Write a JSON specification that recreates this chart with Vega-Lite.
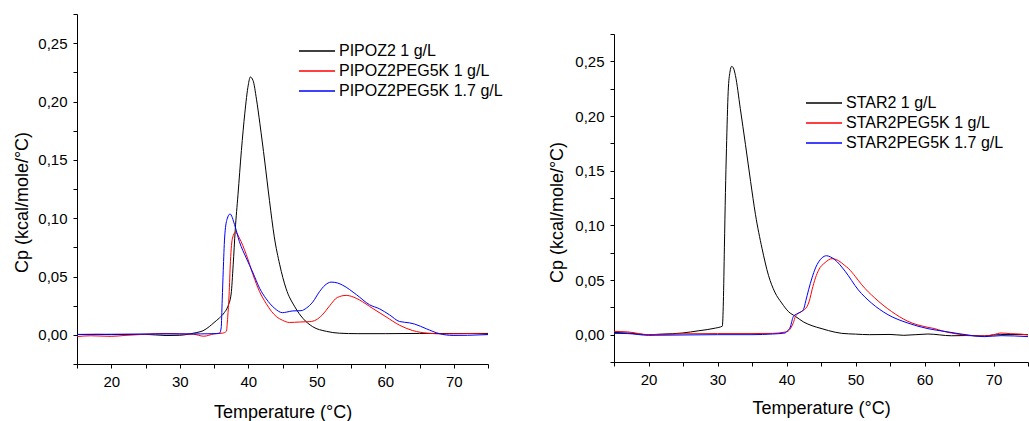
{
  "$schema": "https://vega.github.io/schema/vega-lite/v6.json",
  "padding": {"left": 13, "top": 13, "right": 0, "bottom": 0},
  "background": "white",
  "config": {
    "view": {"stroke": null},
    "font": "Liberation Sans",
    "axis": {"domainColor": "black", "tickColor": "black", "labelColor": "black", "titleColor": "black", "grid": false, "labelFont": "Liberation Sans", "titleFont": "Liberation Sans", "labelFontSize": 15, "titleFontSize": 18, "titleFontWeight": "normal", "tickSize": 4, "labelPadding": 6, "domainWidth": 1, "tickWidth": 1},
    "legend": {"orient": "none", "symbolType": "M-3,0H3", "symbolSize": 144, "symbolStrokeWidth": 1.3, "labelFontSize": 16, "labelFont": "Liberation Sans", "labelColor": "black", "labelOffset": 14, "labelLimit": 0, "rowPadding": 4, "title": null}
  },
  "datasets": {
    "left": [
      {"s": "PIPOZ2 1 g/L", "T": 15, "Cp": 0.0003}, {"s": "PIPOZ2 1 g/L", "T": 18, "Cp": 0.0004}, {"s": "PIPOZ2 1 g/L", "T": 20, "Cp": 0.0002}, {"s": "PIPOZ2 1 g/L", "T": 22, "Cp": 0.0003}, {"s": "PIPOZ2 1 g/L", "T": 25, "Cp": 0.0004}, {"s": "PIPOZ2 1 g/L", "T": 28, "Cp": -0.0006}, {"s": "PIPOZ2 1 g/L", "T": 30, "Cp": -0.0004}, {"s": "PIPOZ2 1 g/L", "T": 31.5, "Cp": 0.0008}, {"s": "PIPOZ2 1 g/L", "T": 32.5, "Cp": 0.002}, {"s": "PIPOZ2 1 g/L", "T": 33.4, "Cp": 0.0035}, {"s": "PIPOZ2 1 g/L", "T": 34.3, "Cp": 0.007}, {"s": "PIPOZ2 1 g/L", "T": 35, "Cp": 0.0105}, {"s": "PIPOZ2 1 g/L", "T": 35.8, "Cp": 0.0145}, {"s": "PIPOZ2 1 g/L", "T": 36.5, "Cp": 0.019}, {"s": "PIPOZ2 1 g/L", "T": 37.0, "Cp": 0.024}, {"s": "PIPOZ2 1 g/L", "T": 37.5, "Cp": 0.035}, {"s": "PIPOZ2 1 g/L", "T": 37.8, "Cp": 0.06}, {"s": "PIPOZ2 1 g/L", "T": 38.1, "Cp": 0.09}, {"s": "PIPOZ2 1 g/L", "T": 38.5, "Cp": 0.12}, {"s": "PIPOZ2 1 g/L", "T": 39.0, "Cp": 0.158}, {"s": "PIPOZ2 1 g/L", "T": 39.5, "Cp": 0.19}, {"s": "PIPOZ2 1 g/L", "T": 40.0, "Cp": 0.214}, {"s": "PIPOZ2 1 g/L", "T": 40.3, "Cp": 0.221}, {"s": "PIPOZ2 1 g/L", "T": 40.7, "Cp": 0.218}, {"s": "PIPOZ2 1 g/L", "T": 41.2, "Cp": 0.202}, {"s": "PIPOZ2 1 g/L", "T": 41.7, "Cp": 0.181}, {"s": "PIPOZ2 1 g/L", "T": 42.4, "Cp": 0.149}, {"s": "PIPOZ2 1 g/L", "T": 43.1, "Cp": 0.115}, {"s": "PIPOZ2 1 g/L", "T": 43.8, "Cp": 0.084}, {"s": "PIPOZ2 1 g/L", "T": 44.6, "Cp": 0.06}, {"s": "PIPOZ2 1 g/L", "T": 45.5, "Cp": 0.04}, {"s": "PIPOZ2 1 g/L", "T": 46.8, "Cp": 0.024}, {"s": "PIPOZ2 1 g/L", "T": 48.0, "Cp": 0.014}, {"s": "PIPOZ2 1 g/L", "T": 49.4, "Cp": 0.007}, {"s": "PIPOZ2 1 g/L", "T": 51.4, "Cp": 0.003}, {"s": "PIPOZ2 1 g/L", "T": 53.3, "Cp": 0.0014}, {"s": "PIPOZ2 1 g/L", "T": 56, "Cp": 0.001}, {"s": "PIPOZ2 1 g/L", "T": 60, "Cp": 0.001}, {"s": "PIPOZ2 1 g/L", "T": 65, "Cp": 0.0012}, {"s": "PIPOZ2 1 g/L", "T": 70, "Cp": 0.0011}, {"s": "PIPOZ2 1 g/L", "T": 75, "Cp": 0.0012},
      {"s": "PIPOZ2PEG5K 1 g/L", "T": 15, "Cp": -0.0015}, {"s": "PIPOZ2PEG5K 1 g/L", "T": 17, "Cp": -0.0008}, {"s": "PIPOZ2PEG5K 1 g/L", "T": 20, "Cp": -0.0013}, {"s": "PIPOZ2PEG5K 1 g/L", "T": 22, "Cp": -0.0005}, {"s": "PIPOZ2PEG5K 1 g/L", "T": 25, "Cp": 0.0005}, {"s": "PIPOZ2PEG5K 1 g/L", "T": 28, "Cp": 0.0012}, {"s": "PIPOZ2PEG5K 1 g/L", "T": 30, "Cp": 0.0008}, {"s": "PIPOZ2PEG5K 1 g/L", "T": 32, "Cp": 0.0005}, {"s": "PIPOZ2PEG5K 1 g/L", "T": 33.5, "Cp": -0.0012}, {"s": "PIPOZ2PEG5K 1 g/L", "T": 35, "Cp": 0.0008}, {"s": "PIPOZ2PEG5K 1 g/L", "T": 36.3, "Cp": 0.0015}, {"s": "PIPOZ2PEG5K 1 g/L", "T": 36.8, "Cp": 0.003}, {"s": "PIPOZ2PEG5K 1 g/L", "T": 37.0, "Cp": 0.015}, {"s": "PIPOZ2PEG5K 1 g/L", "T": 37.2, "Cp": 0.034}, {"s": "PIPOZ2PEG5K 1 g/L", "T": 37.4, "Cp": 0.063}, {"s": "PIPOZ2PEG5K 1 g/L", "T": 37.7, "Cp": 0.083}, {"s": "PIPOZ2PEG5K 1 g/L", "T": 38.15, "Cp": 0.088}, {"s": "PIPOZ2PEG5K 1 g/L", "T": 38.7, "Cp": 0.083}, {"s": "PIPOZ2PEG5K 1 g/L", "T": 39.7, "Cp": 0.069}, {"s": "PIPOZ2PEG5K 1 g/L", "T": 40.7, "Cp": 0.0515}, {"s": "PIPOZ2PEG5K 1 g/L", "T": 41.65, "Cp": 0.037}, {"s": "PIPOZ2PEG5K 1 g/L", "T": 42.6, "Cp": 0.027}, {"s": "PIPOZ2PEG5K 1 g/L", "T": 43.4, "Cp": 0.02}, {"s": "PIPOZ2PEG5K 1 g/L", "T": 44.1, "Cp": 0.0157}, {"s": "PIPOZ2PEG5K 1 g/L", "T": 45.0, "Cp": 0.0125}, {"s": "PIPOZ2PEG5K 1 g/L", "T": 46.0, "Cp": 0.0106}, {"s": "PIPOZ2PEG5K 1 g/L", "T": 47.5, "Cp": 0.011}, {"s": "PIPOZ2PEG5K 1 g/L", "T": 49.0, "Cp": 0.0113}, {"s": "PIPOZ2PEG5K 1 g/L", "T": 49.9, "Cp": 0.0128}, {"s": "PIPOZ2PEG5K 1 g/L", "T": 50.8, "Cp": 0.017}, {"s": "PIPOZ2PEG5K 1 g/L", "T": 51.9, "Cp": 0.025}, {"s": "PIPOZ2PEG5K 1 g/L", "T": 53.0, "Cp": 0.032}, {"s": "PIPOZ2PEG5K 1 g/L", "T": 54.3, "Cp": 0.0338}, {"s": "PIPOZ2PEG5K 1 g/L", "T": 55.3, "Cp": 0.0325}, {"s": "PIPOZ2PEG5K 1 g/L", "T": 56.2, "Cp": 0.03}, {"s": "PIPOZ2PEG5K 1 g/L", "T": 58.2, "Cp": 0.0225}, {"s": "PIPOZ2PEG5K 1 g/L", "T": 60.1, "Cp": 0.0155}, {"s": "PIPOZ2PEG5K 1 g/L", "T": 62.1, "Cp": 0.0082}, {"s": "PIPOZ2PEG5K 1 g/L", "T": 64.0, "Cp": 0.0037}, {"s": "PIPOZ2PEG5K 1 g/L", "T": 66.2, "Cp": 0.0014}, {"s": "PIPOZ2PEG5K 1 g/L", "T": 68.5, "Cp": 0.0008}, {"s": "PIPOZ2PEG5K 1 g/L", "T": 71, "Cp": 0.001}, {"s": "PIPOZ2PEG5K 1 g/L", "T": 73, "Cp": 0.0011}, {"s": "PIPOZ2PEG5K 1 g/L", "T": 75, "Cp": 0.0004},
      {"s": "PIPOZ2PEG5K 1.7 g/L", "T": 15, "Cp": 0.0003}, {"s": "PIPOZ2PEG5K 1.7 g/L", "T": 20, "Cp": 0.0005}, {"s": "PIPOZ2PEG5K 1.7 g/L", "T": 25, "Cp": 0.0007}, {"s": "PIPOZ2PEG5K 1.7 g/L", "T": 30, "Cp": 0.0008}, {"s": "PIPOZ2PEG5K 1.7 g/L", "T": 33, "Cp": 0.0008}, {"s": "PIPOZ2PEG5K 1.7 g/L", "T": 35, "Cp": 0.001}, {"s": "PIPOZ2PEG5K 1.7 g/L", "T": 35.8, "Cp": 0.0014}, {"s": "PIPOZ2PEG5K 1.7 g/L", "T": 36.05, "Cp": 0.006}, {"s": "PIPOZ2PEG5K 1.7 g/L", "T": 36.2, "Cp": 0.03}, {"s": "PIPOZ2PEG5K 1.7 g/L", "T": 36.35, "Cp": 0.055}, {"s": "PIPOZ2PEG5K 1.7 g/L", "T": 36.55, "Cp": 0.083}, {"s": "PIPOZ2PEG5K 1.7 g/L", "T": 36.9, "Cp": 0.099}, {"s": "PIPOZ2PEG5K 1.7 g/L", "T": 37.35, "Cp": 0.1036}, {"s": "PIPOZ2PEG5K 1.7 g/L", "T": 38.0, "Cp": 0.0945}, {"s": "PIPOZ2PEG5K 1.7 g/L", "T": 38.7, "Cp": 0.08}, {"s": "PIPOZ2PEG5K 1.7 g/L", "T": 39.7, "Cp": 0.066}, {"s": "PIPOZ2PEG5K 1.7 g/L", "T": 40.7, "Cp": 0.053}, {"s": "PIPOZ2PEG5K 1.7 g/L", "T": 41.65, "Cp": 0.04}, {"s": "PIPOZ2PEG5K 1.7 g/L", "T": 42.6, "Cp": 0.031}, {"s": "PIPOZ2PEG5K 1.7 g/L", "T": 43.8, "Cp": 0.023}, {"s": "PIPOZ2PEG5K 1.7 g/L", "T": 45.0, "Cp": 0.019}, {"s": "PIPOZ2PEG5K 1.7 g/L", "T": 45.6, "Cp": 0.0195}, {"s": "PIPOZ2PEG5K 1.7 g/L", "T": 46.5, "Cp": 0.0205}, {"s": "PIPOZ2PEG5K 1.7 g/L", "T": 47.7, "Cp": 0.0207}, {"s": "PIPOZ2PEG5K 1.7 g/L", "T": 48.5, "Cp": 0.023}, {"s": "PIPOZ2PEG5K 1.7 g/L", "T": 49.4, "Cp": 0.028}, {"s": "PIPOZ2PEG5K 1.7 g/L", "T": 50.4, "Cp": 0.037}, {"s": "PIPOZ2PEG5K 1.7 g/L", "T": 51.2, "Cp": 0.0425}, {"s": "PIPOZ2PEG5K 1.7 g/L", "T": 52.1, "Cp": 0.0452}, {"s": "PIPOZ2PEG5K 1.7 g/L", "T": 53.0, "Cp": 0.0445}, {"s": "PIPOZ2PEG5K 1.7 g/L", "T": 53.8, "Cp": 0.0425}, {"s": "PIPOZ2PEG5K 1.7 g/L", "T": 55.8, "Cp": 0.0344}, {"s": "PIPOZ2PEG5K 1.7 g/L", "T": 57.7, "Cp": 0.0258}, {"s": "PIPOZ2PEG5K 1.7 g/L", "T": 59.2, "Cp": 0.0222}, {"s": "PIPOZ2PEG5K 1.7 g/L", "T": 60.6, "Cp": 0.0172}, {"s": "PIPOZ2PEG5K 1.7 g/L", "T": 62.1, "Cp": 0.0114}, {"s": "PIPOZ2PEG5K 1.7 g/L", "T": 63.5, "Cp": 0.0103}, {"s": "PIPOZ2PEG5K 1.7 g/L", "T": 64.3, "Cp": 0.0092}, {"s": "PIPOZ2PEG5K 1.7 g/L", "T": 66.0, "Cp": 0.0052}, {"s": "PIPOZ2PEG5K 1.7 g/L", "T": 67.9, "Cp": 0.001}, {"s": "PIPOZ2PEG5K 1.7 g/L", "T": 69.9, "Cp": -0.0005}, {"s": "PIPOZ2PEG5K 1.7 g/L", "T": 72, "Cp": -0.0004}, {"s": "PIPOZ2PEG5K 1.7 g/L", "T": 75, "Cp": 0.0002}
    ],
    "right": [
      {"s": "STAR2 1 g/L", "T": 15, "Cp": 0.002}, {"s": "STAR2 1 g/L", "T": 17, "Cp": 0.0015}, {"s": "STAR2 1 g/L", "T": 20, "Cp": 0.0}, {"s": "STAR2 1 g/L", "T": 22, "Cp": 0.0005}, {"s": "STAR2 1 g/L", "T": 24.9, "Cp": 0.0015}, {"s": "STAR2 1 g/L", "T": 27.3, "Cp": 0.0036}, {"s": "STAR2 1 g/L", "T": 29.7, "Cp": 0.006}, {"s": "STAR2 1 g/L", "T": 30.7, "Cp": 0.0078}, {"s": "STAR2 1 g/L", "T": 30.85, "Cp": 0.03}, {"s": "STAR2 1 g/L", "T": 31.0, "Cp": 0.08}, {"s": "STAR2 1 g/L", "T": 31.15, "Cp": 0.13}, {"s": "STAR2 1 g/L", "T": 31.3, "Cp": 0.17}, {"s": "STAR2 1 g/L", "T": 31.55, "Cp": 0.2225}, {"s": "STAR2 1 g/L", "T": 31.8, "Cp": 0.24}, {"s": "STAR2 1 g/L", "T": 32.05, "Cp": 0.2454}, {"s": "STAR2 1 g/L", "T": 32.3, "Cp": 0.244}, {"s": "STAR2 1 g/L", "T": 32.6, "Cp": 0.237}, {"s": "STAR2 1 g/L", "T": 33.3, "Cp": 0.207}, {"s": "STAR2 1 g/L", "T": 34.05, "Cp": 0.174}, {"s": "STAR2 1 g/L", "T": 34.8, "Cp": 0.14}, {"s": "STAR2 1 g/L", "T": 35.5, "Cp": 0.11}, {"s": "STAR2 1 g/L", "T": 36.45, "Cp": 0.079}, {"s": "STAR2 1 g/L", "T": 37.4, "Cp": 0.054}, {"s": "STAR2 1 g/L", "T": 38.3, "Cp": 0.039}, {"s": "STAR2 1 g/L", "T": 39.3, "Cp": 0.029}, {"s": "STAR2 1 g/L", "T": 40.3, "Cp": 0.021}, {"s": "STAR2 1 g/L", "T": 41.3, "Cp": 0.0167}, {"s": "STAR2 1 g/L", "T": 42.5, "Cp": 0.0115}, {"s": "STAR2 1 g/L", "T": 43.7, "Cp": 0.0082}, {"s": "STAR2 1 g/L", "T": 45.0, "Cp": 0.0057}, {"s": "STAR2 1 g/L", "T": 46.1, "Cp": 0.0037}, {"s": "STAR2 1 g/L", "T": 48.0, "Cp": 0.0012}, {"s": "STAR2 1 g/L", "T": 50, "Cp": 0.0005}, {"s": "STAR2 1 g/L", "T": 52, "Cp": 0.0}, {"s": "STAR2 1 g/L", "T": 55, "Cp": 0.0002}, {"s": "STAR2 1 g/L", "T": 57, "Cp": -0.0006}, {"s": "STAR2 1 g/L", "T": 60.5, "Cp": 0.0006}, {"s": "STAR2 1 g/L", "T": 63.9, "Cp": -0.001}, {"s": "STAR2 1 g/L", "T": 66, "Cp": -0.0008}, {"s": "STAR2 1 g/L", "T": 68.7, "Cp": -0.0012}, {"s": "STAR2 1 g/L", "T": 70, "Cp": -0.0003}, {"s": "STAR2 1 g/L", "T": 72.1, "Cp": 0.0002}, {"s": "STAR2 1 g/L", "T": 75, "Cp": 0.0},
      {"s": "STAR2PEG5K 1 g/L", "T": 15, "Cp": 0.003}, {"s": "STAR2PEG5K 1 g/L", "T": 17, "Cp": 0.0025}, {"s": "STAR2PEG5K 1 g/L", "T": 20, "Cp": 0.0}, {"s": "STAR2PEG5K 1 g/L", "T": 25, "Cp": 0.0008}, {"s": "STAR2PEG5K 1 g/L", "T": 30, "Cp": 0.001}, {"s": "STAR2PEG5K 1 g/L", "T": 35, "Cp": 0.001}, {"s": "STAR2PEG5K 1 g/L", "T": 38, "Cp": 0.0012}, {"s": "STAR2PEG5K 1 g/L", "T": 39.8, "Cp": 0.0024}, {"s": "STAR2PEG5K 1 g/L", "T": 40.3, "Cp": 0.0035}, {"s": "STAR2PEG5K 1 g/L", "T": 40.7, "Cp": 0.007}, {"s": "STAR2PEG5K 1 g/L", "T": 41.0, "Cp": 0.011}, {"s": "STAR2PEG5K 1 g/L", "T": 41.3, "Cp": 0.0167}, {"s": "STAR2PEG5K 1 g/L", "T": 41.6, "Cp": 0.019}, {"s": "STAR2PEG5K 1 g/L", "T": 42.2, "Cp": 0.0213}, {"s": "STAR2PEG5K 1 g/L", "T": 43.0, "Cp": 0.026}, {"s": "STAR2PEG5K 1 g/L", "T": 43.4, "Cp": 0.033}, {"s": "STAR2PEG5K 1 g/L", "T": 43.7, "Cp": 0.041}, {"s": "STAR2PEG5K 1 g/L", "T": 44.2, "Cp": 0.052}, {"s": "STAR2PEG5K 1 g/L", "T": 44.65, "Cp": 0.059}, {"s": "STAR2PEG5K 1 g/L", "T": 45.6, "Cp": 0.066}, {"s": "STAR2PEG5K 1 g/L", "T": 46.6, "Cp": 0.0695}, {"s": "STAR2PEG5K 1 g/L", "T": 47.5, "Cp": 0.0678}, {"s": "STAR2PEG5K 1 g/L", "T": 48.4, "Cp": 0.0635}, {"s": "STAR2PEG5K 1 g/L", "T": 49.0, "Cp": 0.0604}, {"s": "STAR2PEG5K 1 g/L", "T": 50.0, "Cp": 0.053}, {"s": "STAR2PEG5K 1 g/L", "T": 50.9, "Cp": 0.0457}, {"s": "STAR2PEG5K 1 g/L", "T": 52.8, "Cp": 0.0335}, {"s": "STAR2PEG5K 1 g/L", "T": 55.2, "Cp": 0.0213}, {"s": "STAR2PEG5K 1 g/L", "T": 57.6, "Cp": 0.0122}, {"s": "STAR2PEG5K 1 g/L", "T": 60.5, "Cp": 0.0067}, {"s": "STAR2PEG5K 1 g/L", "T": 61.5, "Cp": 0.0055}, {"s": "STAR2PEG5K 1 g/L", "T": 62.5, "Cp": 0.0035}, {"s": "STAR2PEG5K 1 g/L", "T": 63.9, "Cp": 0.0015}, {"s": "STAR2PEG5K 1 g/L", "T": 66.3, "Cp": -0.0006}, {"s": "STAR2PEG5K 1 g/L", "T": 68.7, "Cp": -0.0012}, {"s": "STAR2PEG5K 1 g/L", "T": 70.0, "Cp": 0.0}, {"s": "STAR2PEG5K 1 g/L", "T": 71.1, "Cp": 0.0015}, {"s": "STAR2PEG5K 1 g/L", "T": 72.5, "Cp": 0.0009}, {"s": "STAR2PEG5K 1 g/L", "T": 74, "Cp": 0.0005}, {"s": "STAR2PEG5K 1 g/L", "T": 75, "Cp": -0.0003},
      {"s": "STAR2PEG5K 1.7 g/L", "T": 15, "Cp": 0.0012}, {"s": "STAR2PEG5K 1.7 g/L", "T": 17, "Cp": 0.001}, {"s": "STAR2PEG5K 1.7 g/L", "T": 20, "Cp": -0.0006}, {"s": "STAR2PEG5K 1.7 g/L", "T": 25, "Cp": -0.0003}, {"s": "STAR2PEG5K 1.7 g/L", "T": 30, "Cp": 0.0}, {"s": "STAR2PEG5K 1.7 g/L", "T": 35, "Cp": 0.0}, {"s": "STAR2PEG5K 1.7 g/L", "T": 38, "Cp": 0.0006}, {"s": "STAR2PEG5K 1.7 g/L", "T": 39.8, "Cp": 0.0015}, {"s": "STAR2PEG5K 1.7 g/L", "T": 40.05, "Cp": 0.003}, {"s": "STAR2PEG5K 1.7 g/L", "T": 40.55, "Cp": 0.007}, {"s": "STAR2PEG5K 1.7 g/L", "T": 41.0, "Cp": 0.0167}, {"s": "STAR2PEG5K 1.7 g/L", "T": 41.5, "Cp": 0.019}, {"s": "STAR2PEG5K 1.7 g/L", "T": 42.0, "Cp": 0.0205}, {"s": "STAR2PEG5K 1.7 g/L", "T": 42.45, "Cp": 0.0229}, {"s": "STAR2PEG5K 1.7 g/L", "T": 42.8, "Cp": 0.031}, {"s": "STAR2PEG5K 1.7 g/L", "T": 43.2, "Cp": 0.041}, {"s": "STAR2PEG5K 1.7 g/L", "T": 43.7, "Cp": 0.052}, {"s": "STAR2PEG5K 1.7 g/L", "T": 44.2, "Cp": 0.061}, {"s": "STAR2PEG5K 1.7 g/L", "T": 45.1, "Cp": 0.07}, {"s": "STAR2PEG5K 1.7 g/L", "T": 45.8, "Cp": 0.0722}, {"s": "STAR2PEG5K 1.7 g/L", "T": 46.4, "Cp": 0.071}, {"s": "STAR2PEG5K 1.7 g/L", "T": 47.0, "Cp": 0.0686}, {"s": "STAR2PEG5K 1.7 g/L", "T": 48.5, "Cp": 0.058}, {"s": "STAR2PEG5K 1.7 g/L", "T": 50.4, "Cp": 0.041}, {"s": "STAR2PEG5K 1.7 g/L", "T": 52.3, "Cp": 0.029}, {"s": "STAR2PEG5K 1.7 g/L", "T": 54.7, "Cp": 0.0183}, {"s": "STAR2PEG5K 1.7 g/L", "T": 57.6, "Cp": 0.0106}, {"s": "STAR2PEG5K 1.7 g/L", "T": 60.5, "Cp": 0.0055}, {"s": "STAR2PEG5K 1.7 g/L", "T": 62.9, "Cp": 0.003}, {"s": "STAR2PEG5K 1.7 g/L", "T": 65.3, "Cp": 0.0006}, {"s": "STAR2PEG5K 1.7 g/L", "T": 68.7, "Cp": -0.0018}, {"s": "STAR2PEG5K 1.7 g/L", "T": 71.1, "Cp": -0.0009}, {"s": "STAR2PEG5K 1.7 g/L", "T": 75, "Cp": -0.0018}
    ]
  },
  "spacing": 45,
  "resolve": {"scale": {"color": "independent"}, "legend": {"color": "independent"}},
  "hconcat": [
    {
      "width": 411,
      "height": 350,
      "data": {"name": "left"},
      "mark": {"type": "line", "strokeWidth": 1, "interpolate": "monotone"},
      "encoding": {
        "x": {"field": "T", "type": "quantitative", "scale": {"domain": [15, 75], "nice": false, "zero": false},
          "axis": {"values": [15, 20, 25, 30, 35, 40, 45, 50, 55, 60, 65, 70, 75], "labelExpr": "datum.value % 10 == 0 ? datum.label : ''", "title": "Temperature (°C)", "titlePadding": 14}},
        "y": {"field": "Cp", "type": "quantitative", "scale": {"domain": [-0.025, 0.275], "nice": false, "zero": false},
          "axis": {"values": [-0.025, 0, 0.025, 0.05, 0.075, 0.1, 0.125, 0.15, 0.175, 0.2, 0.225, 0.25, 0.275], "labelExpr": "datum.value > -0.001 && datum.value < 0.26 && round(datum.value * 40) % 2 == 0 ? replace(format(datum.value, '.2f'), '.', ',') : ''", "title": "Cp (kcal/mole/°C)", "titlePadding": 6, "titleY": 188}},
        "color": {"field": "s", "type": "nominal",
          "scale": {"domain": ["PIPOZ2 1 g/L", "PIPOZ2PEG5K 1 g/L", "PIPOZ2PEG5K 1.7 g/L"], "range": ["black", "red", "blue"]},
          "legend": {"orient": "none", "legendX": 232, "legendY": 29}}
      }
    },
    {
      "spacing": 0,
      "vconcat": [
        {
          "width": 10,
          "height": 19,
          "data": {"values": []},
          "mark": {"type": "point", "opacity": 0}
        },
        {
          "width": 414,
          "height": 328,
          "data": {"name": "right"},
          "mark": {"type": "line", "strokeWidth": 1, "interpolate": "monotone"},
          "encoding": {
            "x": {"field": "T", "type": "quantitative", "scale": {"domain": [15, 75], "nice": false, "zero": false},
              "axis": {"values": [15, 20, 25, 30, 35, 40, 45, 50, 55, 60, 65, 70, 75], "labelExpr": "datum.value % 10 == 0 ? datum.label : ''", "title": "Temperature (°C)", "titlePadding": 12}},
            "y": {"field": "Cp", "type": "quantitative", "scale": {"domain": [-0.025, 0.275], "nice": false, "zero": false},
              "axis": {"values": [-0.025, 0, 0.025, 0.05, 0.075, 0.1, 0.125, 0.15, 0.175, 0.2, 0.225, 0.25, 0.275], "labelExpr": "datum.value > -0.001 && datum.value < 0.26 && round(datum.value * 40) % 2 == 0 ? replace(format(datum.value, '.2f'), '.', ',') : ''", "title": "Cp (kcal/mole/°C)", "titlePadding": 8, "titleY": 178}},
            "color": {"field": "s", "type": "nominal",
              "scale": {"domain": ["STAR2 1 g/L", "STAR2PEG5K 1 g/L", "STAR2PEG5K 1.7 g/L"], "range": ["black", "red", "blue"]},
              "legend": {"orient": "none", "legendX": 202, "legendY": 81}}
          }
        }
      ]
    }
  ]
}
